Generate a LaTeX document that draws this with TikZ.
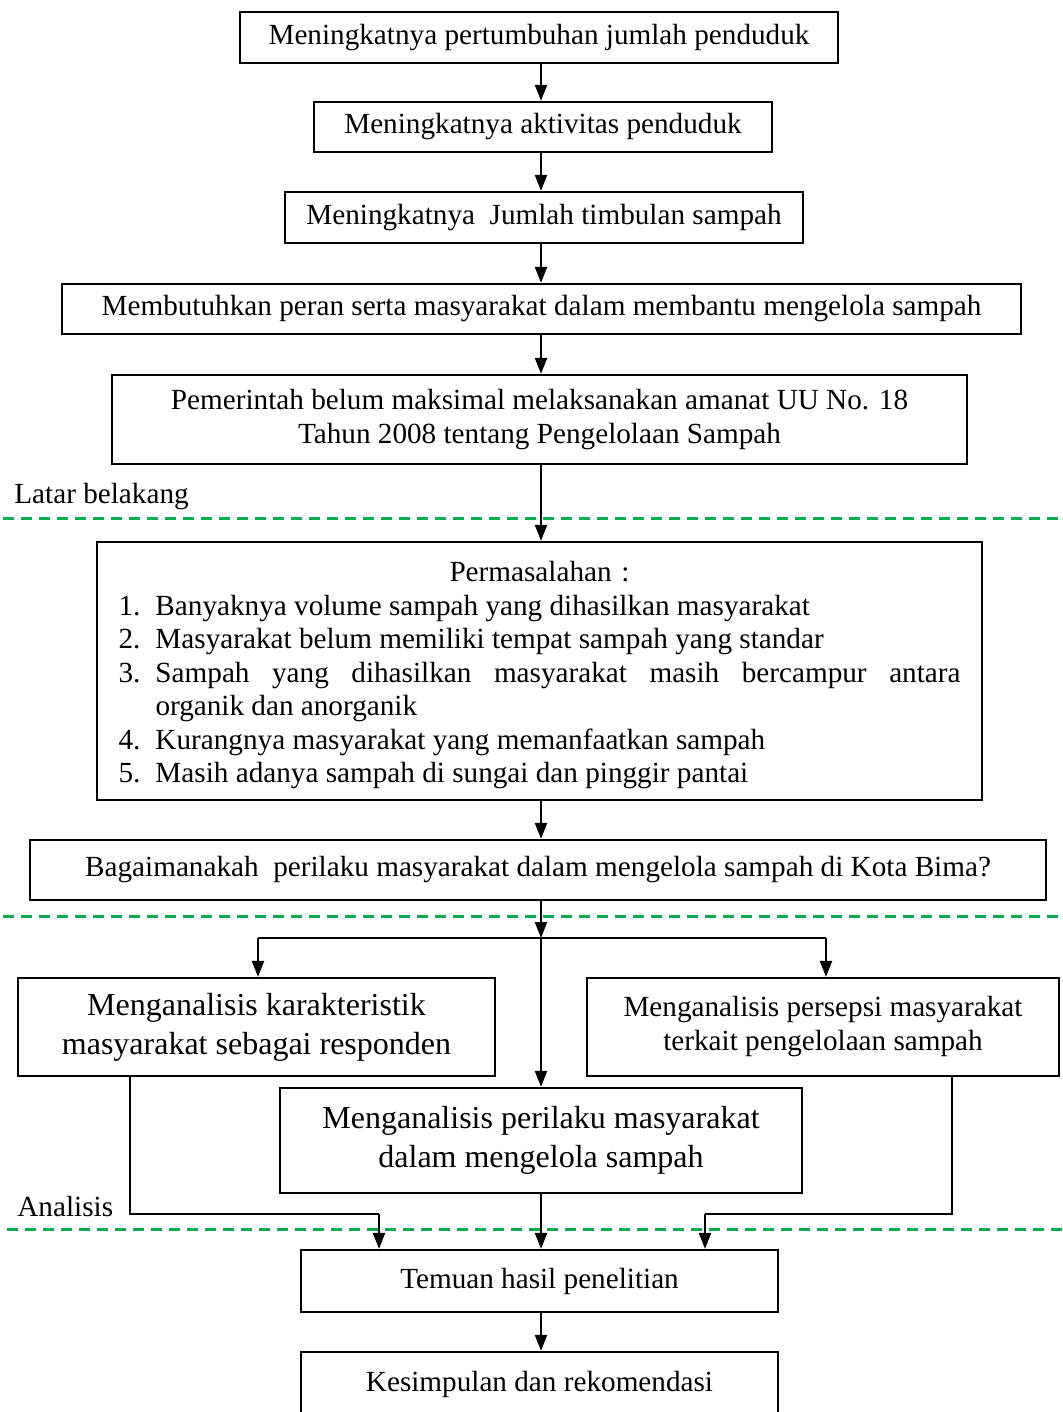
\documentclass[tikz,border=0pt]{standalone}
\usepackage{fontspec}
\setmainfont{Liberation Serif}
\usetikzlibrary{arrows.meta}
\definecolor{dashgreen}{RGB}{0,176,80}
\newcommand{\probitem}[2]{\hangindent=18.5pt\hangafter=1\noindent\makebox[18.5pt][l]{#1}#2\par}
\begin{document}
\begin{tikzpicture}[x=0.5pt,y=-0.5pt,
  box/.style={draw,line width=1.1pt,inner sep=0pt,align=center,font=\fontsize{14.6}{17}\selectfont},
  bigtxt/.style={font=\fontsize{16}{19.5}\selectfont},
  arr/.style={line width=1.1pt,-{Triangle[length=8pt,width=6pt]}},
  conn/.style={line width=1.1pt},
  sep/.style={draw=dashgreen,line width=1.5pt,dash pattern=on 5.5pt off 3.5pt},
  lbl/.style={anchor=west,inner sep=0pt,font=\fontsize{14.6}{17}\selectfont}]
\useasboundingbox (0,0) rectangle (1062,1412);
\coordinate (ax) at (541,0);
\node[box,minimum width=299pt,minimum height=25.5pt] (b1) at (539,37.5) {Meningkatnya pertumbuhan jumlah penduduk};
\node[box,minimum width=229pt,minimum height=25pt] (b2) at (543,127) {Meningkatnya aktivitas penduduk};
\node[box,minimum width=259pt,minimum height=25.5pt] (b3) at (544,217.5) {Meningkatnya\ \ Jumlah timbulan sampah};
\node[box,minimum width=479.5pt,minimum height=25pt] (b4) at (541.5,309) {Membutuhkan peran serta masyarakat dalam membantu mengelola sampah};
\node[box,minimum width=427.5pt,minimum height=44.5pt] (b5) at (539.5,419.5) {Pemerintah belum maksimal melaksanakan amanat UU No. 18\\Tahun 2008 tentang Pengelolaan Sampah};
\node[box,minimum width=442.5pt,minimum height=129pt,text width=421pt,align=center,font=\fontsize{14.6}{16.75}\selectfont] (b6) at (539.5,671) {%
\rule{0pt}{14.5pt}Permasalahan :\par
\leftskip=0pt\rightskip=0pt\parfillskip=0pt plus 1fil\spaceskip=0pt\xspaceskip=0pt
\probitem{1.}{Banyaknya volume sampah yang dihasilkan masyarakat}
\probitem{2.}{Masyarakat belum memiliki tempat sampah yang standar}
\probitem{3.}{Sampah yang dihasilkan masyarakat masih bercampur antara\linebreak organik dan anorganik}
\probitem{4.}{Kurangnya masyarakat yang memanfaatkan sampah}
\probitem{5.}{Masih adanya sampah di sungai dan pinggir pantai}};
\node[box,minimum width=508pt,minimum height=30pt] (b7) at (538,870) {Bagaimanakah\ \ perilaku masyarakat dalam mengelola sampah di Kota Bima?};
\node[box,bigtxt,minimum width=238.5pt,minimum height=49pt] (bl) at (256.5,1027) {Menganalisis karakteristik\\masyarakat sebagai responden};
\node[box,minimum width=236pt,minimum height=49pt] (br) at (823,1027) {Menganalisis persepsi masyarakat\\terkait pengelolaan sampah};
\node[box,bigtxt,minimum width=261pt,minimum height=52.5pt] (bc) at (541,1140.5) {Menganalisis perilaku masyarakat\\dalam mengelola sampah};
\node[box,minimum width=238.5pt,minimum height=31pt] (b8) at (539.5,1281) {Temuan hasil penelitian};
\node[box,minimum width=238.5pt,minimum height=32pt] (b9) at (539.5,1384) {Kesimpulan dan rekomendasi};
% separators
\draw[sep] (3,518) -- (1062,518);
\draw[sep] (3,916) -- (1062,916);
\draw[sep] (7,1229) -- (1062,1229);
\node[lbl] (l1) at (14,497) {Latar belakang};
\node[lbl] (l2) at (17,1206) {Analisis};
% connectors
\draw[arr] (b1.south -| ax) -- (b2.north -| ax);
\draw[arr] (b2.south -| ax) -- (b3.north -| ax);
\draw[arr] (b3.south -| ax) -- (b4.north -| ax);
\draw[arr] (b4.south -| ax) -- (b5.north -| ax);
\draw[arr] (b5.south -| ax) -- (b6.north -| ax);
\draw[arr] (b6.south -| ax) -- (b7.north -| ax);
\coordinate (sp) at (541,938);
\coordinate (spl) at (258,938);
\coordinate (spr) at (826,938);
\draw[arr] (b7.south -| ax) -- (sp);
\draw[conn] (spl) -- (spr);
\draw[arr] (spl) -- (bl.north -| spl);
\draw[arr] (spr) -- (br.north -| spr);
\draw[arr] (sp) -- (bc.north -| sp);
\coordinate (lx) at (130,1214);
\coordinate (la) at (379,1214);
\coordinate (rx) at (952,1214);
\coordinate (ra) at (705,1214);
\draw[conn] (bl.south -| lx) -- (lx) -- (la);
\draw[arr] (la) -- (b8.north -| la);
\draw[conn] (br.south -| rx) -- (rx) -- (ra);
\draw[arr] (ra) -- (b8.north -| ra);
\draw[arr] (bc.south -| ax) -- (b8.north -| ax);
\draw[arr] (b8.south -| ax) -- (b9.north -| ax);
\end{tikzpicture}
\end{document}
